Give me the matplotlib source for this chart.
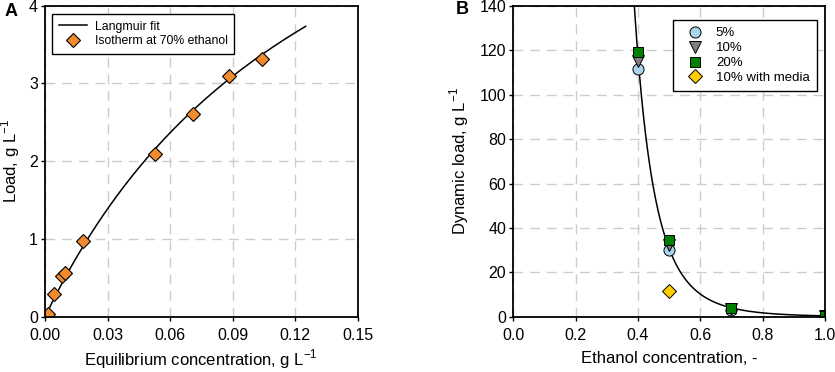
import matplotlib
matplotlib.use("Agg")
import matplotlib.pyplot as plt
import numpy as np

plt.rcParams["font.family"] = ["Liberation Sans", "DejaVu Sans"]
plt.rcParams["mathtext.fontset"] = "custom"
plt.rcParams["mathtext.rm"] = "Liberation Sans"

# Panel A: isotherm at 70% ethanol
iso_c = [0.0015, 0.0045, 0.0083, 0.0098, 0.018, 0.053, 0.0708, 0.0883, 0.104]
iso_q = [0.04, 0.29, 0.53, 0.56, 0.98, 2.09, 2.61, 3.10, 3.32]
# Langmuir fit parameters
q_max = 8.0
k_lang = 7.0
fit_c_max = 0.125

# Panel B: dynamic load vs ethanol concentration
eth = [0.4, 0.5, 0.7, 1.0]
load_5 = [111.5, 30.2, 3.2, 0.5]
load_10 = [115.1, 32.5, 3.5, 0.5]
load_20 = [119.3, 34.4, 3.9, 0.6]
eth_media = [0.5]
load_media = [11.8]
# power-law fit  load = a * eth^-b
pow_a = 0.48
pow_b = 6.0

grid_kw = dict(color="#cccccc", linestyle=(0, (7, 5)), linewidth=1.0)

fig = plt.figure(figsize=(8.35, 3.72), dpi=100)
axA = fig.add_axes([0.0539, 0.148, 0.3745, 0.837])
axB = fig.add_axes([0.6147, 0.148, 0.3733, 0.837])

for ax in (axA, axB):
    ax.set_axisbelow(True)
    ax.grid(True, **grid_kw)
    for s in ax.spines.values():
        s.set_linewidth(1.3)
    ax.tick_params(direction="out", length=3, width=1, labelsize=11.5, pad=2)
    ax.tick_params(axis="x", pad=5)

leg_kw = dict(fancybox=False, edgecolor="black", framealpha=1,
              borderpad=0.55, borderaxespad=0, labelspacing=0.2)

# --- A ---
cc = np.linspace(0, fit_c_max, 200)
axA.plot(cc, q_max * k_lang * cc / (1 + k_lang * cc), color="black", lw=1.1,
         label="Langmuir fit")
axA.plot(iso_c, iso_q, linestyle="none", marker="D", markersize=7.5,
         markerfacecolor="#f28a2e", markeredgecolor="black", markeredgewidth=0.8,
         label="Isotherm at 70% ethanol")
axA.set_xlim(0, 0.15)
axA.set_ylim(0, 4)
axA.set_xticks([0, 0.03, 0.06, 0.09, 0.12, 0.15])
axA.set_xticklabels(["0.00", "0.03", "0.06", "0.09", "0.12", "0.15"])
axA.set_yticks([0, 1, 2, 3, 4])
axA.set_xlabel("Equilibrium concentration, g L$^{\\mathregular{-1}}$", fontsize=12, labelpad=3)
axA.set_ylabel("Load, g L$^{\\mathregular{-1}}$", fontsize=12, labelpad=5)
legA = axA.legend(loc="upper left", bbox_to_anchor=(0.022, 0.973), fontsize=8.8,
                  handlelength=2.3, handletextpad=0.65, **leg_kw)
legA.get_frame().set_linewidth(1.0)

# --- B ---
xx = np.linspace(0.38, 1.0, 400)
axB.plot(xx, pow_a * xx ** (-pow_b), color="black", lw=1.1)
mk = dict(linestyle="none", markeredgecolor="black", markeredgewidth=0.7)
axB.plot(eth, load_5, marker="o", markersize=8, markerfacecolor="#a8d4ec", label="5%", **mk)
axB.plot(eth, load_10, marker="v", markersize=8, markerfacecolor="#808080", label="10%", **mk)
axB.plot(eth, load_20, marker="s", markersize=7, markerfacecolor="#008000", label="20%", **mk)
axB.plot(eth_media, load_media, marker="D", markersize=7, markerfacecolor="#ffcc00",
         label="10% with media", **mk)
axB.set_xlim(0, 1.0)
axB.set_ylim(0, 140)
axB.set_xticks([0, 0.2, 0.4, 0.6, 0.8, 1.0])
axB.set_yticks(range(0, 141, 20))
axB.set_xlabel("Ethanol concentration, -", fontsize=12, labelpad=6)
axB.set_ylabel("Dynamic load, g L$^{\\mathregular{-1}}$", fontsize=12, labelpad=6)
legB = axB.legend(loc="upper right", bbox_to_anchor=(0.974, 0.954), fontsize=9.5,
                  handlelength=2.2, handletextpad=0.5, **leg_kw)
legB.get_frame().set_linewidth(1.0)

fig.text(0.006, 0.97, "A", fontsize=13, fontweight="bold", va="center")
fig.text(0.546, 0.975, "B", fontsize=13, fontweight="bold", va="center")

fig.savefig("out.png", dpi=100)
